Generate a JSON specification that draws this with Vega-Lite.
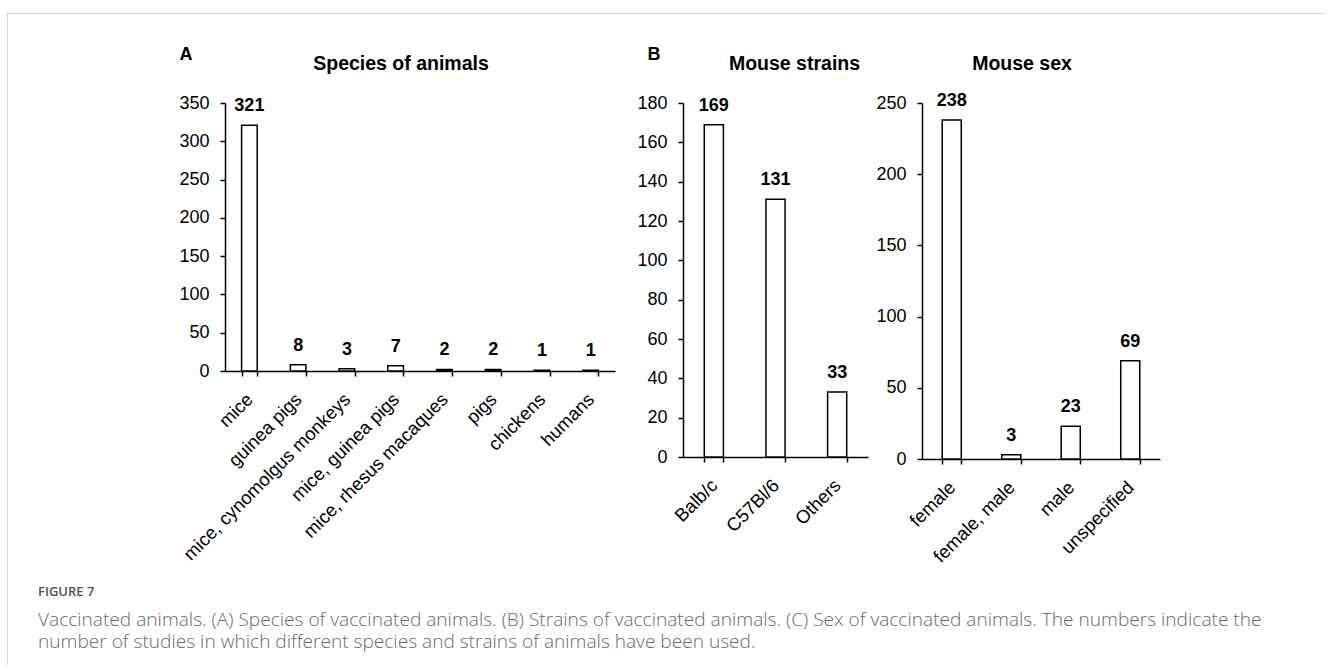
{
  "$schema": "https://vega.github.io/schema/vega-lite/v6.json",
  "padding": {"left": 7, "top": 13, "right": 0, "bottom": 0},
  "autosize": {"type": "pad"},
  "background": "white",
  "config": {
    "font": "Liberation Sans",
    "view": {"stroke": null},
    "axis": {
      "domainColor": "black", "domainWidth": 1.5,
      "tickColor": "black", "tickWidth": 1.5, "tickSize": 5,
      "labelColor": "black", "labelFontSize": 18, "labelFont": "Liberation Sans",
      "labelPadding": 11, "grid": false
    },
    "axisX": {
      "labelAngle": -45, "labelFontSize": 18.5, "labelBaseline": "middle", "labelAlign": "right",
      "labelLimit": 0, "tickBand": "extent", "title": null, "labelPadding": 20
    },
    "title": {"font": "Liberation Sans", "fontSize": 19.5, "fontWeight": "bold", "color": "black"}
  },
  "spacing": 0,
  "hconcat": [
    {
      "data": {"values": []},
      "mark": "rule",
      "encoding": {},
      "width": 1,
      "height": 652,
      "view": {"fill": "#d6d6d6", "stroke": null}
    },
    {
      "spacing": 31,
      "title": {
        "text": "FIGURE 7",
        "subtitle": [
          "Vaccinated animals. (A) Species of vaccinated animals. (B) Strains of vaccinated animals. (C) Sex of vaccinated animals. The numbers indicate the",
          "number of studies in which different species and strains of animals have been used."
        ],
        "orient": "bottom",
        "anchor": "start",
        "frame": "bounds",
        "dx": 30,
        "offset": 20,
        "font": "Open Sans",
        "fontSize": 13,
        "fontWeight": 600,
        "color": "#505050",
        "subtitleFont": "Open Sans",
        "subtitleFontSize": 19.1,
        "subtitleFontWeight": 300,
        "subtitleColor": "#6a6a6a",
        "subtitleLineHeight": 22,
        "subtitlePadding": 12
      },
      "vconcat": [
        {
          "data": {"values": []},
          "mark": "rule",
          "encoding": {},
          "width": 1318,
          "height": 1,
          "view": {"fill": "#d6d6d6", "stroke": null}
        },
        {
          "bounds": "flush",
          "spacing": 68,
          "hconcat": [
            {
              "data": {"values": []},
              "mark": "rule",
              "encoding": {},
              "width": 149,
              "height": 268
            },
            {
              "title": {"text": "Species of animals", "frame": "group", "dx": -19, "offset": -29},
              "width": 390,
              "height": 268,
              "data": {"values": [
                {"species": "mice", "studies": 321},
                {"species": "guinea pigs", "studies": 8},
                {"species": "mice, cynomolgus monkeys", "studies": 3},
                {"species": "mice, guinea pigs", "studies": 7},
                {"species": "mice, rhesus macaques", "studies": 2},
                {"species": "pigs", "studies": 2},
                {"species": "chickens", "studies": 1},
                {"species": "humans", "studies": 1}
              ]},
              "encoding": {
                "x": {"field": "species", "type": "nominal", "sort": null,
                      "scale": {"paddingInner": 0.68, "paddingOuter": 0.34}},
                "y": {"field": "studies", "type": "quantitative",
                      "scale": {"domain": [0, 350], "nice": false},
                      "axis": {"values": [0, 50, 100, 150, 200, 250, 300, 350],
                               "title": "A", "titleAngle": 0, "titleX": -46, "titleY": -44,
                               "titleAlign": "left", "titleBaseline": "alphabetic",
                               "titleFontSize": 18, "titleFontWeight": "bold", "titleColor": "black"}}
              },
              "layer": [
                {"mark": {"type": "bar", "fill": "white", "stroke": "black", "strokeWidth": 1.5}},
                {"mark": {"type": "text", "fontWeight": "bold", "fontSize": 18, "baseline": "alphabetic", "dy": -14},
                 "encoding": {"text": {"field": "studies", "type": "quantitative"}}}
              ]
            },
            {
              "bounds": "flush",
              "spacing": 54,
              "hconcat": [
                {
                  "title": {"text": "Mouse strains", "frame": "group", "dx": 19, "offset": -29},
                  "width": 185,
                  "height": 354,
                  "data": {"values": [
                    {"strain": "Balb/c", "studies": 169},
                    {"strain": "C57Bl/6", "studies": 131},
                    {"strain": "Others", "studies": 33}
                  ]},
                  "encoding": {
                    "x": {"field": "strain", "type": "nominal", "sort": null,
                          "scale": {"paddingInner": 0.69, "paddingOuter": 0.345}},
                    "y": {"field": "studies", "type": "quantitative",
                          "scale": {"domain": [0, 180], "nice": false},
                          "axis": {"values": [0, 20, 40, 60, 80, 100, 120, 140, 160, 180],
                                   "title": "B", "titleAngle": 0, "titleX": -36, "titleY": -44,
                                   "titleAlign": "left", "titleBaseline": "alphabetic",
                                   "titleFontSize": 18, "titleFontWeight": "bold", "titleColor": "black"}}
                  },
                  "layer": [
                    {"mark": {"type": "bar", "fill": "white", "stroke": "black", "strokeWidth": 1.5}},
                    {"mark": {"type": "text", "fontWeight": "bold", "fontSize": 18, "baseline": "alphabetic", "dy": -14},
                     "encoding": {"text": {"field": "studies", "type": "quantitative"}}}
                  ]
                },
                {
                  "title": {"text": "Mouse sex", "frame": "group", "dx": -19, "offset": 18},
                  "width": 238,
                  "height": 356,
                  "data": {"values": [
                    {"sex": "female", "studies": 238},
                    {"sex": "female, male", "studies": 3},
                    {"sex": "male", "studies": 23},
                    {"sex": "unspecified", "studies": 69}
                  ]},
                  "encoding": {
                    "x": {"field": "sex", "type": "nominal", "sort": null,
                          "scale": {"paddingInner": 0.68, "paddingOuter": 0.34}},
                    "y": {"field": "studies", "type": "quantitative",
                          "scale": {"domain": [0, 250], "nice": false},
                          "axis": {"values": [0, 50, 100, 150, 200, 250], "title": null}}
                  },
                  "layer": [
                    {"mark": {"type": "bar", "fill": "white", "stroke": "black", "strokeWidth": 1.5}},
                    {"mark": {"type": "text", "fontWeight": "bold", "fontSize": 18, "baseline": "alphabetic", "dy": -14},
                     "encoding": {"text": {"field": "studies", "type": "quantitative"}}}
                  ]
                }
              ]
            }
          ]
        }
      ]
    }
  ]
}
